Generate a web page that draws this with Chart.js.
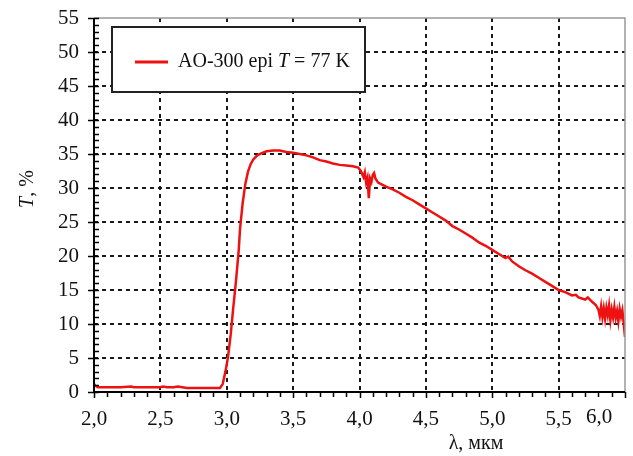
<!DOCTYPE html>
<html>
<head>
<meta charset="utf-8">
<script src="https://cdn.jsdelivr.net/npm/chart.js@4.4.0/dist/chart.umd.min.js"></script>
<style>
	html, body { margin: 0; padding: 0; background: #fff; }
	#wrap { width: 633px; height: 456px; }
</style>
</head>
<body>
<div id="wrap"><canvas id="chart" width="633" height="456"></canvas></div>
<script>
// wavelength, mkm
var lambda = [
	2.00, 2.01, 2.03, 2.10, 2.20, 2.28, 2.30, 2.40, 2.50, 2.52, 2.55, 2.60, 2.63, 2.70, 2.80, 2.90, 2.95,
	2.97, 2.99, 3.01, 3.03, 3.05, 3.07, 3.09, 3.10, 3.12, 3.14, 3.16, 3.18, 3.20, 3.23, 3.26, 3.30,
	3.35, 3.40, 3.45, 3.50, 3.55, 3.60, 3.65, 3.70, 3.75, 3.80, 3.85, 3.90, 3.95, 3.99,
	4.01, 4.03, 4.04, 4.05, 4.06, 4.07, 4.08, 4.09, 4.10, 4.11, 4.12, 4.14, 4.17, 4.20,
	4.25, 4.30, 4.35, 4.40, 4.45, 4.50, 4.55, 4.60, 4.65, 4.70, 4.75, 4.80, 4.85, 4.90, 4.95,
	5.00, 5.05, 5.10, 5.12, 5.15, 5.20, 5.25, 5.30, 5.35, 5.40, 5.45, 5.50, 5.55, 5.60, 5.63, 5.65,
	5.70, 5.72, 5.75, 5.78, 5.80, 5.81, 5.82, 5.83, 5.84, 5.85, 5.86, 5.87, 5.88, 5.89, 5.90,
	5.91, 5.92, 5.93, 5.94, 5.95, 5.96, 5.97, 5.98, 5.99, 6.00
];
// transmission, %
var trans = [
	1.2, 0.9, 0.7, 0.7, 0.7, 0.8, 0.7, 0.7, 0.7, 0.8, 0.7, 0.7, 0.8, 0.6, 0.6, 0.6, 0.6,
	1.2, 3.0, 5.2, 8.5, 12.6, 16.4, 20.8, 24.0, 27.8, 30.6, 32.4, 33.5, 34.2, 34.8, 35.1, 35.4,
	35.5, 35.5, 35.3, 35.2, 35.0, 34.8, 34.5, 34.1, 33.9, 33.6, 33.4, 33.3, 33.2, 33.0,
	32.5, 31.6, 32.3, 30.8, 31.5, 28.5, 31.4, 30.9, 31.9, 32.2, 31.4, 30.8, 30.5, 30.2,
	29.8, 29.3, 28.7, 28.2, 27.6, 27.0, 26.4, 25.8, 25.2, 24.4, 23.9, 23.3, 22.7, 22.0, 21.5,
	20.9, 20.3, 19.7, 19.9, 19.2, 18.5, 17.9, 17.4, 16.8, 16.2, 15.6, 15.0, 14.7, 14.2, 14.3, 13.9,
	13.6, 13.9, 13.3, 12.8, 12.1, 11.2, 12.6, 11.0, 12.3, 10.8, 12.4, 11.3, 12.7, 10.6, 12.1,
	11.0, 12.5, 10.9, 11.9, 10.4, 12.2, 11.1, 12.0, 10.2, 8.1
];
var xMin = 2, xMax = 6, xStep = 0.5;
var yMin = 0, yMax = 55, yStep = 5;
var legendText = ["AO-300 epi ", "T", " = 77 K"];

var serif = "'Liberation Serif', 'DejaVu Serif', serif";
var inkColor = "#111";

// 부가 요소: 테두리, 보조 눈금, 범례, 축 제목
var decorPlugin = {
	id: 'decor',
	afterDatasetsDraw: function(chart) {
		var ctx = chart.ctx;
		var a = chart.chartArea;
		var xs = chart.scales.x, ys = chart.scales.y;
		ctx.save();

		// frame top/right
		ctx.strokeStyle = "#999";
		ctx.lineWidth = 1.5;
		ctx.beginPath();
		ctx.moveTo(a.left, a.top); ctx.lineTo(a.right, a.top); ctx.lineTo(a.right, a.bottom);
		ctx.stroke();

		// axes
		ctx.strokeStyle = "#000";
		ctx.lineWidth = 2;
		ctx.beginPath();
		ctx.moveTo(a.left, a.top); ctx.lineTo(a.left, a.bottom); ctx.lineTo(a.right, a.bottom);
		ctx.stroke();

		// minor ticks
		ctx.lineWidth = 1.5;
		ctx.beginPath();
		for (var v = yMin; v <= yMax; v++) {
			var py = Math.round(ys.getPixelForValue(v)) + 0.5;
			if (v % 5 === 0) { ctx.moveTo(a.left - 6, py); ctx.lineTo(a.left + 5, py); }
			else { ctx.moveTo(a.left, py); ctx.lineTo(a.left + 5, py); }
		}
		for (var i = 0; i <= 40; i++) {
			var px = Math.round(xs.getPixelForValue(xMin + i * 0.1)) + 0.5;
			ctx.moveTo(px, a.bottom);
			ctx.lineTo(px, a.bottom + (i % 5 === 0 ? 6 : 5));
		}
		ctx.stroke();

		// last x label shifted inside
		ctx.fillStyle = inkColor;
		ctx.font = "21px " + serif;
		ctx.textAlign = "center";
		ctx.textBaseline = "top";
		ctx.fillText(xMax.toFixed(1).replace('.', ','), a.right - 26, a.bottom + 15);

		// legend
		var lx = a.left + 18, ly = a.top + 9, lw = 253, lh = 65;
		ctx.fillStyle = "#fff";
		ctx.fillRect(lx, ly, lw, lh);
		ctx.strokeStyle = "#222";
		ctx.lineWidth = 2;
		ctx.strokeRect(lx, ly, lw, lh);
		ctx.strokeStyle = chart.data.datasets[0].borderColor;
		ctx.lineWidth = 3;
		ctx.beginPath();
		ctx.moveTo(lx + 23, ly + 35); ctx.lineTo(lx + 56, ly + 35);
		ctx.stroke();
		ctx.fillStyle = inkColor;
		ctx.textAlign = "left";
		ctx.textBaseline = "middle";
		var tx = lx + 66;
		legendText.forEach(function(s, k) {
			ctx.font = (k === 1 ? "italic " : "") + "20px " + serif;
			ctx.fillText(s, tx, ly + 35);
			tx += ctx.measureText(s).width;
		});

		// x title
		ctx.font = "20px " + serif;
		ctx.textAlign = "center";
		ctx.fillText("λ, мкм", 476, 444);

		// y title
		ctx.translate(28, 189);
		ctx.rotate(-Math.PI / 2);
		ctx.font = "italic 20px " + serif;
		var w1 = ctx.measureText("T").width;
		ctx.font = "20px " + serif;
		var w2 = ctx.measureText(", %").width;
		ctx.textAlign = "left";
		ctx.font = "italic 20px " + serif;
		ctx.fillText("T", -(w1 + w2) / 2, 0);
		ctx.font = "20px " + serif;
		ctx.fillText(", %", -(w1 + w2) / 2 + w1, 0);

		ctx.restore();
	}
};

new Chart(document.getElementById("chart"), {
	type: 'line',
	data: {
		datasets: [{
			data: lambda.map(function(x, i) { return { x: x, y: trans[i] }; }),
			borderColor: "#ee1111",
			borderWidth: 2.5,
			pointRadius: 0,
			tension: 0,
			fill: false
		}]
	},
	options: {
		responsive: false,
		animation: false,
		layout: { padding: { top: 18, right: 8, bottom: 0, left: 0 } },
		plugins: { legend: { display: false }, tooltip: { enabled: false } },
		scales: {
			x: {
				type: 'linear',
				min: xMin, max: xMax,
				border: { display: false, dash: [4, 4] },
				grid: {
					drawTicks: false,
					lineWidth: 2,
					color: function(c) {
						var v = c.tick ? c.tick.value : 0;
						return (v > xMin + 0.01 && v < xMax - 0.01) ? "#1a1a1a" : "rgba(0,0,0,0)";
					}
				},
				ticks: {
					stepSize: xStep,
					padding: 15,
					color: inkColor,
					font: { family: serif, size: 21 },
					maxRotation: 0,
					autoSkip: false,
					callback: function(v) { return v >= xMax - 0.01 ? "" : Number(v).toFixed(1).replace('.', ','); }
				},
				afterFit: function(s) { s.height = 64; s.paddingLeft = 0; s.paddingRight = 0; }
			},
			y: {
				min: yMin, max: yMax,
				border: { display: false, dash: [4, 4] },
				grid: {
					drawTicks: false,
					lineWidth: 2,
					color: function(c) {
						var v = c.tick ? c.tick.value : 0;
						return (v > yMin && v < yMax) ? "#1a1a1a" : "rgba(0,0,0,0)";
					}
				},
				ticks: {
					stepSize: yStep,
					padding: 15,
					color: inkColor,
					font: { family: serif, size: 21 },
					autoSkip: false
				},
				afterFit: function(s) { s.width = 94; s.paddingTop = 0; s.paddingBottom = 0; }
			}
		}
	},
	plugins: [decorPlugin]
});
</script>
</body>
</html>
